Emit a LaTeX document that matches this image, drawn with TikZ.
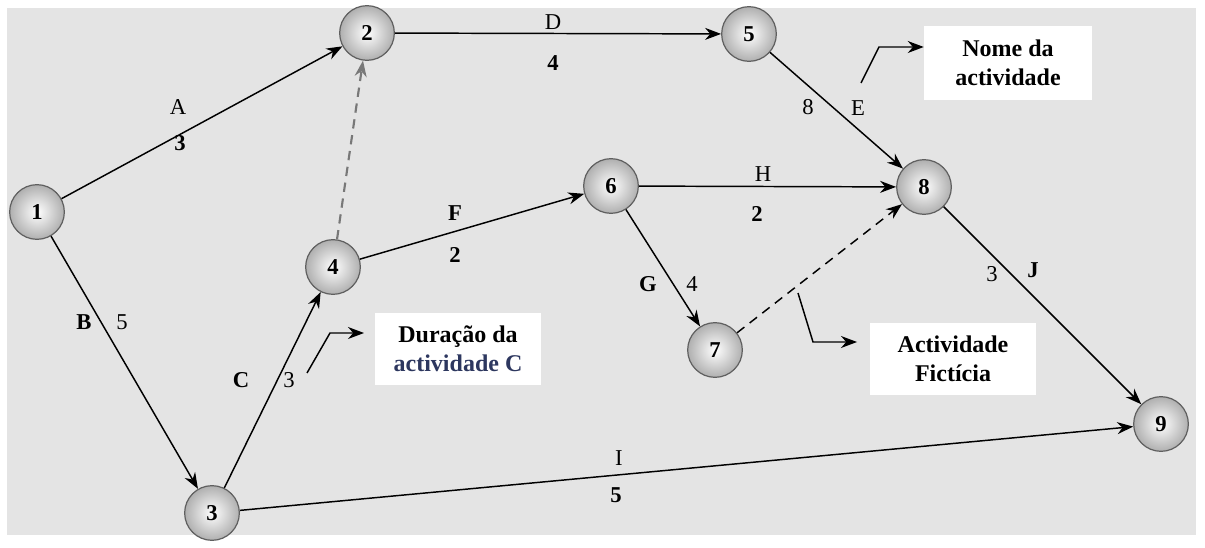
\documentclass[tikz,border=0pt]{standalone}
\usepackage{fontspec}
\setmainfont{Liberation Serif}
\usetikzlibrary{arrows.meta}
\definecolor{bgGray}{RGB}{228,228,228}
\definecolor{lblNavy}{RGB}{45,55,95}
\tikzset{
  evt/.style={circle,minimum size=41,inner sep=0pt,draw={rgb,255:red,95;green,95;blue,95},line width=0.9,
    inner color=white,outer color={rgb,255:red,175;green,175;blue,175},font=\fontsize{17}{19}\selectfont\bfseries},
  act/.style={line width=1.1,-{Stealth[length=12,width=9]}},
  fict/.style={act,dashed,dash pattern=on 7pt off 5pt},
  lbl/.style={inner sep=0.75pt,font=\fontsize{17}{19}\selectfont},
  blbl/.style={lbl,font=\fontsize{17}{19}\selectfont\bfseries},
  note/.style={fill=white,inner sep=6pt,align=center,font=\fontsize{18}{22}\selectfont\bfseries}
}
\begin{document}
\begin{tikzpicture}[x=0.75pt,y=0.75pt,yscale=-1,xscale=1]
\useasboundingbox (0,0) rectangle (1205,548);
%Background
\fill[white] (0,0) rectangle (1205,548);
\fill[bgGray] (7,8) rectangle (1196,535);

%Notes
\node[note,minimum width=126,minimum height=56] (nomeBox) at (1008,63) {Nome da\\actividade};
\node[note,minimum width=124,minimum height=54] (duraBox) at (458,349) {Dura\c{c}\~ao da\\\textcolor{lblNavy}{actividade C}};
\node[note,minimum width=124,minimum height=54] (ficBox) at (953,359) {Actividade\\Fict\'{\i}cia};

%Events
\node[evt] (e1) at (37,212) {1};
\node[evt] (e2) at (367,33) {2};
\node[evt] (e3) at (212,513) {3};
\node[evt] (e4) at (333,267) {4};
\node[evt] (e5) at (749,34) {5};
\node[evt] (e6) at (611,186) {6};
\node[evt] (e7) at (715,350) {7};
\node[evt] (e8) at (924,187) {8};
\node[evt] (e9) at (1161,424) {9};

%Straight Lines
\draw[act] (e1) -- (e2);
\draw[act] (e1) -- (e3);
\draw[act] (e3) -- (e4);
\draw[fict,line width=1.6,draw={rgb,255:red,120;green,120;blue,120}] (e4) -- (e2);
\draw[act] (e4) -- (e6);
\draw[act] (e2) -- (e5);
\draw[act] (e5) -- (e8);
\draw[act] (e6) -- (e8);
\draw[act] (e6) -- (e7);
\draw[fict] (e7) -- (e8);
\draw[act] (e8) -- (e9);
\draw[act] (e3) -- (e9);

%Bent pointers
\coordinate (pE) at (861,83);
\coordinate (pC) at (307,373);
\coordinate (pF) at (798,293);
\draw[act] (pE) -- (879,47) -- (nomeBox.west|-0,47);
\draw[act] (pC) -- (330,333) -- (364,333);
\draw[act] (pF) -- (813,342) -- (857,342);

% Text Node
\node[lbl] (lA) at (178,107) {A};
\node[blbl] (dA) at (180,143) {3};
\node[blbl] (lB) at (84,322) {B};
\node[lbl] (dB) at (122,322) {5};
\node[blbl] (lC) at (241,380) {C};
\node[lbl] (dC) at (289,380) {3};
\node[lbl] (lD) at (553,22) {D};
\node[blbl] (dD) at (553,63) {4};
\node[lbl] (lE) at (858,108) {E};
\node[lbl] (dE) at (808,107) {8};
\node[blbl] (lF) at (455,213) {F};
\node[blbl] (dF) at (455,255) {2};
\node[blbl] (lG) at (648,284) {G};
\node[lbl] (dG) at (692,284) {4};
\node[lbl] (lH) at (763,174) {H};
\node[blbl] (dH) at (757,214) {2};
\node[lbl] (lI) at (619,458) {I};
\node[blbl] (dI) at (616,495) {5};
\node[blbl] (lJ) at (1033,270) {J};
\node[lbl] (dJ) at (992,274) {3};
\end{tikzpicture}
\end{document}
